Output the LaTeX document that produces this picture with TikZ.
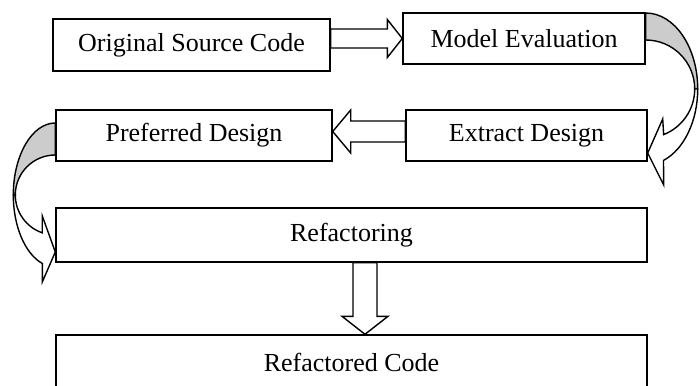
\documentclass[tikz,border=0pt]{standalone}
\usepackage{fontspec}
\setmainfont{Liberation Serif}
\usetikzlibrary{calc}
\begin{document}
\begin{tikzpicture}[x=1pt,y=-1pt,
  box/.style={draw, line width=1.4pt, rectangle, inner sep=0pt, font=\fontsize{26}{30}\selectfont},
  blk/.style={draw, line width=1.4pt, fill=white, line join=miter},
  back/.style={draw, line width=1.4pt, fill=gray!40, line join=miter}]
\useasboundingbox (0,0) rectangle (700,385);
\clip (0,0) rectangle (700,385);
% boxes
\node[box, minimum width=277pt, minimum height=52pt] (b1) at (191.5,45) {Original Source Code};
\node[box, minimum width=242pt, minimum height=51pt] (b2) at (524,38.5) {Model Evaluation};
\node[box, minimum width=241pt, minimum height=51pt] (b3) at (526.5,135.5) {Extract Design};
\node[box, minimum width=276pt, minimum height=51pt] (b4) at (194,135.5) {Preferred Design};
\node[box, minimum width=591pt, minimum height=54pt] (b5) at (351.5,235) {Refactoring};
\node[box, minimum width=591pt, minimum height=54pt] (b6) at (351.5,362) {Refactored Code};
% right block arrow b1 -> b2
\draw[blk] ($(b1.east |- b2.west)+(0,-9.5)$) -- ($(b2.west)+(-15,-9.5)$) -- ($(b2.west)+(-15,-19)$)
  -- (b2.west) -- ($(b2.west)+(-15,19)$) -- ($(b2.west)+(-15,9.5)$) -- ($(b1.east |- b2.west)+(0,9.5)$) -- cycle;
% left block arrow b3 -> b4
\coordinate (t4) at ($(b4.east)+(0,-4)$);
\draw[blk] (t4) -- ($(t4)+(18,-21.5)$) -- ($(t4)+(18,-10.5)$) -- ($(b3.west |- t4)+(0,-10.5)$)
  -- ($(b3.west |- t4)+(0,10.5)$) -- ($(t4)+(18,10.5)$) -- ($(t4)+(18,21.5)$) -- cycle;
% down block arrow b5 -> b6
\coordinate (s5) at ($(b5.south)+(13.5,0)$);
\coordinate (t6) at ($(b6.north)+(13.5,0)$);
\draw[blk] ($(s5)+(-12,0)$) -- ($(t6)+(-12,-18)$) -- ($(t6)+(-23,-18)$) -- (t6)
  -- ($(t6)+(23,-18)$) -- ($(t6)+(12,-18)$) -- ($(s5)+(12,0)$) -- cycle;
% right curved arrow b2 -> b3
\coordinate (RC) at ($(b2.east)+(0,50.5)$);
\draw[back] ($(RC)+(0,-76)$) arc[start angle=90, end angle=0, x radius=52pt, y radius=76pt]
  -- ($(RC)+(49,0)$) arc[start angle=0, end angle=90, radius=49pt] -- cycle;
\draw[blk] ($(RC)+(52,0)$) arc[start angle=0, end angle=-70, x radius=52pt, y radius=76pt]
  -- ($(b3.east)+(16,49.5)$) -- ($(b3.east)+(0,17.5)$) -- ($(b3.east)+(15,-16.5)$)
  -- ($(RC)+(-68.5:49pt)$) arc[start angle=-68.5, end angle=0, radius=49pt] -- cycle;
% left curved arrow b4 -> b5
\coordinate (LC) at ($(b4.west)+(0,59.5)$);
\draw[back] ($(LC)+(0,-72)$) arc[start angle=90, end angle=180, x radius=42pt, y radius=72pt]
  -- ($(LC)+(-40,0)$) arc[start angle=180, end angle=90, radius=40pt] -- cycle;
\draw[blk] ($(LC)+(-42,0)$) arc[start angle=180, end angle=252, x radius=42pt, y radius=72pt]
  -- ($(b5.west)+(-13,47)$) -- ($(b5.west)+(0,17)$) -- ($(b5.west)+(-13,-19)$)
  -- ($(LC)+(251:40pt)$) arc[start angle=251, end angle=180, radius=40pt] -- cycle;
\end{tikzpicture}
\end{document}
